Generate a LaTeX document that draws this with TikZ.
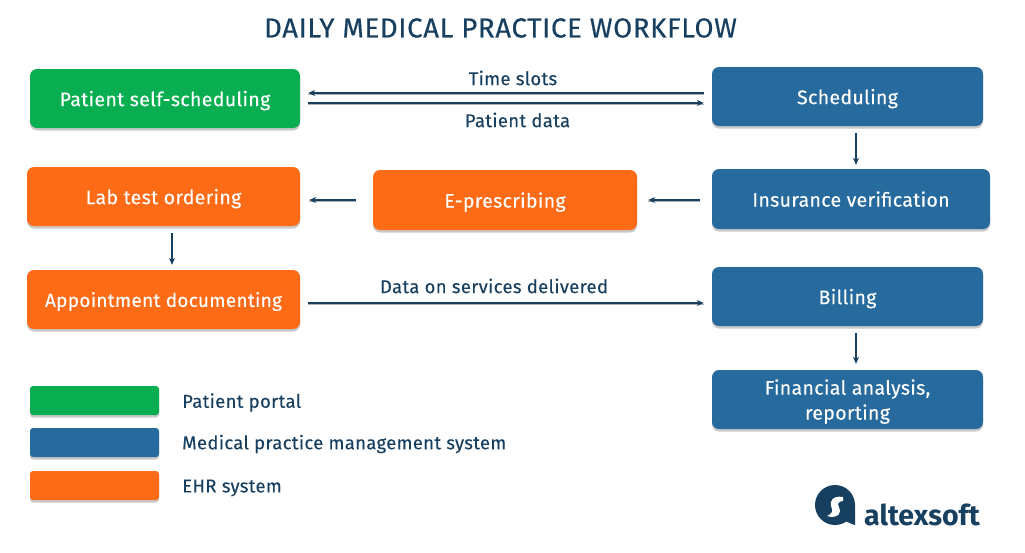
\documentclass[tikz,border=0pt]{standalone}
\usepackage{fontspec}
\setmainfont[LetterSpace=1.5,FakeBold=0.12]{Fira Sans}
\newfontfamily\titlefont[LetterSpace=2.5,FakeBold=0.4]{Fira Sans}
\newfontfamily\logofont{Fira Sans}
\usetikzlibrary{shadows,arrows.meta}
\definecolor{navy}{HTML}{173F5F}
\definecolor{ggreen}{HTML}{08AE4F}
\definecolor{oorange}{HTML}{FE6B17}
\definecolor{bblue}{HTML}{266A9E}
\tikzset{
  x=1pt,y=-1pt,
  softshadow/.style={drop shadow={shadow xshift=0pt,shadow yshift=-2.5pt,fill=black!70,opacity=.3}},
  box/.style={rectangle,rounded corners=7pt,minimum width=#1,inner sep=0pt,text=white,align=center,text depth=-2pt,font=\fontsize{19.6}{25}\selectfont,softshadow},
  lgd/.style={rectangle,rounded corners=3pt,minimum width=129pt,minimum height=29pt,inner sep=0pt,softshadow},
  lbl/.style={text=navy,font=\fontsize{18.6}{22}\selectfont,inner sep=0pt},
  arr/.style={draw=navy,line width=1.3pt,-{Stealth[length=7pt,width=6pt]},preaction={draw=black!30,line width=1.3pt,transform canvas={yshift=-1.2pt},arrows=-}},
  darr/.style={draw=navy,line width=1.3pt,-{Stealth[length=7pt,width=6pt]}},
}
\begin{document}
\begin{tikzpicture}
\useasboundingbox (0,0) rectangle (1025,552);
\node[text=navy,font=\titlefont\fontsize{27.5}{32}\selectfont,inner sep=0pt] (title) at (500.5,28) {DAILY MEDICAL PRACTICE WORKFLOW};

\node[box=270pt,minimum height=59pt,fill=ggreen] (self) at (165,98.5) {Patient self-scheduling};
\node[box=273pt,minimum height=59pt,fill=oorange] (lab) at (163.5,196.5) {Lab test ordering};
\node[box=264pt,minimum height=60pt,fill=oorange] (epr) at (505,200) {E-prescribing};
\node[box=273pt,minimum height=59pt,fill=oorange,font=\fontsize{19}{25}\selectfont] (appt) at (163.5,299.5) {Appointment documenting};
\node[box=271pt,minimum height=59pt,fill=bblue] (sched) at (847.5,96.5) {Scheduling};
\node[box=278pt,minimum height=60pt,fill=bblue] (ins) at (851,199) {Insurance verification};
\node[box=271pt,minimum height=59pt,fill=bblue] (bill) at (847.5,296.5) {Billing};
\node[box=271pt,minimum height=59pt,text depth=0pt,fill=bblue] (fin) at (847.5,399.5) {Financial analysis,\\reporting};

\coordinate (a1s) at (sched.west|-0,93);
\coordinate (a1e) at (self.east|-0,93);
\coordinate (a2s) at (self.east|-0,103);
\coordinate (a2e) at (sched.west|-0,103);
\draw[arr,shorten <=8pt,shorten >=8pt] (a1s) -- (a1e);
\draw[arr,shorten <=8pt,shorten >=8pt] (a2s) -- (a2e);
\node[lbl] (ts) at (513,78) {Time slots};
\node[lbl] (pd) at (517.5,120) {Patient data};

\draw[darr,shorten <=7pt,shorten >=4pt] (sched.south-|856,0) -- (ins.north-|856,0);
\coordinate (b1) at (ins.west|-0,200);
\coordinate (b2) at (epr.east|-0,200);
\coordinate (c1) at (epr.west|-0,200);
\coordinate (c2) at (lab.east|-0,200);
\draw[arr,shorten <=12pt,shorten >=11pt] (b1) -- (b2);
\draw[arr,shorten <=17pt,shorten >=9pt] (c1) -- (c2);
\draw[darr,shorten <=7pt,shorten >=5pt] (lab.south-|172,0) -- (appt.north-|172,0);
\coordinate (d1) at (appt.east|-0,303);
\coordinate (d2) at (bill.west|-0,303);
\draw[arr,shorten <=8pt,shorten >=8pt] (d1) -- (d2);
\node[lbl] (ds) at (494,286) {Data on services delivered};
\draw[darr,shorten <=7pt,shorten >=6pt] (bill.south-|856,0) -- (fin.north-|856,0);

\node[lgd,fill=ggreen] (l1) at (94.5,400.5) {};
\node[lgd,fill=bblue] (l2) at (94.5,442.5) {};
\node[lgd,fill=oorange] (l3) at (94.5,485.5) {};
\node[lbl,anchor=west] (t1) at (182,402.5) {Patient portal};
\node[lbl,anchor=west] (t2) at (182,444) {Medical practice management system};
\node[lbl,anchor=west] (t3) at (182,488) {EHR system};

% logo
\fill[navy] (835,505) circle (20);
\fill[navy] (855,505) -- (855,525) .. controls (851,524) and (848,522) .. (845,521) -- (835,505) -- cycle;
\fill[white] (843,497) .. controls (838,496) and (832,497) .. (831,502)
  .. controls (830,506) and (833,509) .. (832,512)
  .. controls (831,514) and (829,515) .. (827,516)
  .. controls (832,518) and (840,517) .. (840,511)
  .. controls (840,508) and (838,506) .. (838,504)
  .. controls (838,502) and (841,501) .. (843,501)
  -- cycle;
\node[text=navy,font=\logofont\bfseries\fontsize{28.5}{32}\selectfont,anchor=base west,inner sep=0pt] (logo) at (864,525) {altexsoft};
\end{tikzpicture}
\end{document}
